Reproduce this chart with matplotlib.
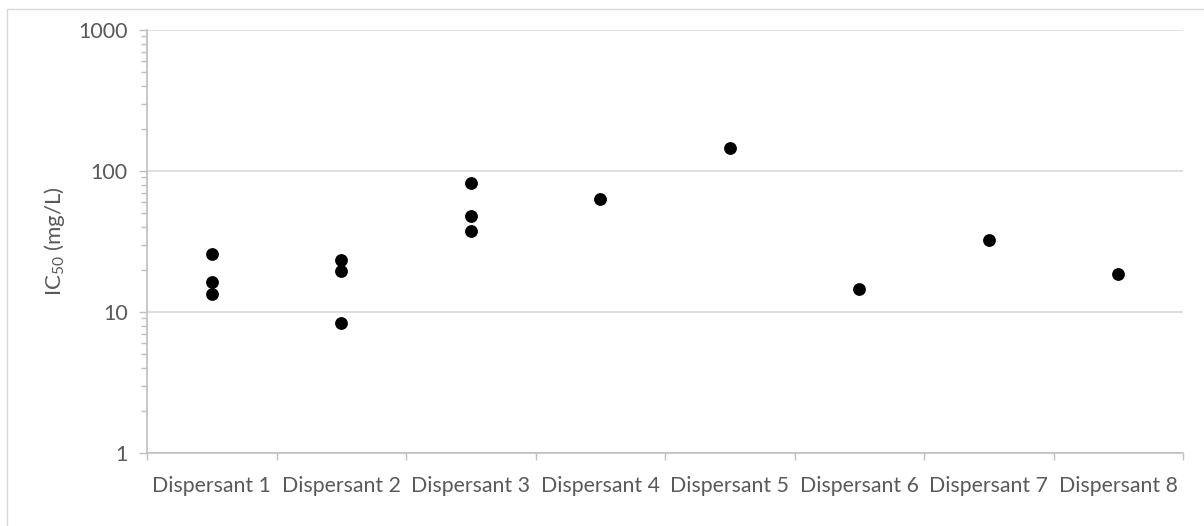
import matplotlib
matplotlib.use("Agg")
import matplotlib.pyplot as plt
from matplotlib.ticker import FixedLocator, NullFormatter, FixedFormatter, LogLocator
from matplotlib.patches import Rectangle

plt.rcParams["font.family"] = ["Lato", "DejaVu Sans"]
plt.rcParams["mathtext.fontset"] = "custom"
plt.rcParams["mathtext.rm"] = "Lato"

categories = ["Dispersant 1", "Dispersant 2", "Dispersant 3", "Dispersant 4",
              "Dispersant 5", "Dispersant 6", "Dispersant 7", "Dispersant 8"]
# IC50 values (mg/L), grouped per dispersant
ic50 = [
    [25.9, 16.2, 13.5],
    [23.5, 19.5, 8.4],
    [82.0, 47.6, 37.5],
    [63.5],
    [146.0],
    [14.5],
    [32.2],
    [18.7],
]

grey_text = "#595959"
grey_axis = "#bfbfbf"
grey_grid = "#d9d9d9"

fig = plt.figure(figsize=(12.04, 5.26), dpi=100)
ax = fig.add_axes([147 / 1204, 1 - 453 / 526, (1183 - 147) / 1204, (453 - 30) / 526])

# chart area border (Excel style)
fig.patches.append(Rectangle((7 / 1204, -0.1), 1.2, 1 - 9 / 526 + 0.1, transform=fig.transFigure,
                             fill=False, edgecolor=grey_grid, linewidth=1))

for i, vals in enumerate(ic50):
    ax.scatter([i + 0.5] * len(vals), vals, s=85, color="black", zorder=3, linewidths=0)

ax.set_yscale("log")
ax.set_ylim(1, 1000)
ax.set_xlim(0, len(categories))

# x axis: ticks between categories, labels centred in them
ax.xaxis.set_major_locator(FixedLocator(range(len(categories) + 1)))
ax.xaxis.set_major_formatter(NullFormatter())
ax.xaxis.set_minor_locator(FixedLocator([i + 0.5 for i in range(len(categories))]))
ax.xaxis.set_minor_formatter(FixedFormatter(categories))
ax.tick_params(axis="x", which="major", length=5, color=grey_axis, width=1)
ax.tick_params(axis="x", which="minor", length=0, pad=16.5, labelsize=15.3, labelcolor=grey_text)

ax.yaxis.set_major_locator(FixedLocator([1, 10, 100, 1000]))
ax.set_yticklabels(["1", "10", "100", "1000"])
ax.yaxis.set_minor_locator(LogLocator(base=10, subs=range(2, 10)))
ax.yaxis.set_minor_formatter(NullFormatter())
ax.tick_params(axis="y", which="major", length=6, color=grey_axis, width=1,
               labelsize=15.5, labelcolor=grey_text, pad=8)
ax.tick_params(axis="y", which="minor", length=4, color=grey_axis, width=1)

ax.grid(axis="y", which="major", color=grey_grid, linewidth=1.2)
ax.set_axisbelow(True)
for side in ("top", "right"):
    ax.spines[side].set_visible(False)
for side in ("left", "bottom"):
    ax.spines[side].set_color(grey_axis)
    ax.spines[side].set_linewidth(1.2)

ax.set_ylabel(r"IC$_{\mathrm{50}}$ (mg/L)", fontsize=16, color=grey_text)
ax.yaxis.set_label_coords(-(147 - 67) / 1036, 0.5)

fig.savefig("out.png", dpi=100)
